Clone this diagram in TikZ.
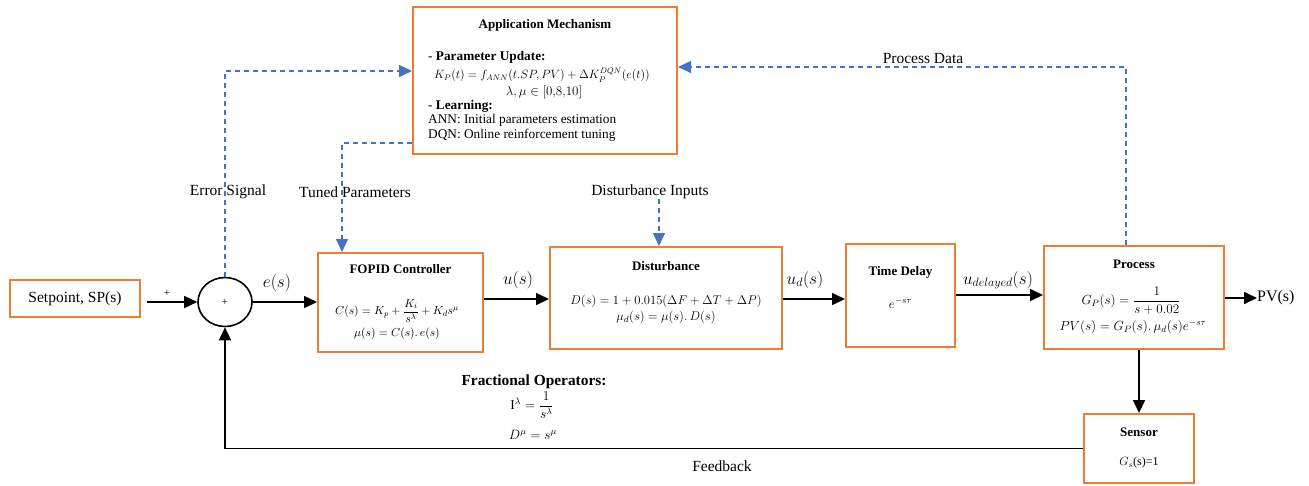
\RequirePackage{fix-cm}
\documentclass[tikz,border=0pt]{standalone}
\usepackage{amsmath}
\usepackage{fontspec}
\setmainfont{Liberation Serif}
\usetikzlibrary{arrows.meta,shapes.geometric}
\definecolor{orng}{HTML}{ED7D31}
\definecolor{blu}{HTML}{4472C4}
\begin{document}
\begin{tikzpicture}[x=1pt,y=-1pt,
  blk/.style={draw=orng,line width=2pt,inner sep=0pt},
  arr/.style={line width=1.6pt,-{Triangle[length=13pt,width=12pt]}},
  darr/.style={draw=blu,line width=1.2pt,dash pattern=on 5pt off 4pt,-{Triangle[length=13pt,width=12pt,fill=blu]}},
  ttl/.style={font=\fontsize{13}{15}\selectfont\bfseries,inner sep=0pt},
  frm/.style={font=\fontsize{12}{14}\selectfont,inner sep=0pt},
  lbl/.style={font=\fontsize{15.5}{18}\selectfont,inner sep=0pt},
  mlbl/.style={font=\fontsize{17.3}{20}\selectfont,inner sep=0pt},
  txt/.style={font=\fontsize{13.3}{15}\selectfont,inner sep=0pt,anchor=west}]
\useasboundingbox[fill=white] (0,0) rectangle (1309,485);
% blocks
\node[blk,minimum width=130pt,minimum height=37pt] (sp) at (75,298.5) {\fontsize{15.5}{18}\selectfont Setpoint, SP(s)};
\node[draw,ellipse,line width=1.6pt,minimum width=54pt,minimum height=49pt,inner sep=0pt] (sum) at (225,302) {\fontsize{11}{13}\selectfont +};
\node[blk,minimum width=165pt,minimum height=99pt] (fop) at (400.5,302.5) {};
\node[blk,minimum width=232pt,minimum height=102pt] (dist) at (666,298) {};
\node[blk,minimum width=109pt,minimum height=103pt] (td) at (900.5,295.5) {};
\node[blk,minimum width=180pt,minimum height=103pt] (proc) at (1134,297.5) {};
\node[blk,minimum width=110pt,minimum height=69pt] (sens) at (1139,448.5) {};
\node[blk,minimum width=264pt,minimum height=147pt] (app) at (545,80.5) {};
% block contents
\node[ttl] (fopt) at (400.5,269) {FOPID Controller};
\node[frm,font=\fontsize{11.6}{14}\selectfont] (fopf1) at (397,311) {$C(s)=K_p+\dfrac{K_i}{s^{\lambda}}+K_d s^{\mu}$};
\node[frm,font=\fontsize{11.6}{14}\selectfont] (fopf2) at (397,334) {$\mu(s)=C(s).\,e(s)$};
\node[ttl] (distt) at (666,266) {Disturbance};
\node[frm,font=\fontsize{12.6}{15}\selectfont] (distf1) at (666,301) {$D(s)=1+0.015(\Delta F+\Delta T+\Delta P)$};
\node[frm,font=\fontsize{12.6}{15}\selectfont] (distf2) at (666,317) {$\mu_d(s)=\mu(s).\,D(s)$};
\node[ttl] (tdt) at (900.5,272) {Time Delay};
\node[frm,font=\fontsize{13}{15}\selectfont] (tdf) at (900.5,303) {$e^{-s\tau}$};
\node[ttl] (proct) at (1134,264) {Process};
\node[frm,font=\fontsize{13.2}{15}\selectfont] (procf1) at (1131,301) {$G_P(s)=\dfrac{1}{s+0.02}$};
\node[frm,font=\fontsize{13.2}{15}\selectfont] (procf2) at (1133,327) {$PV(s)=G_P(s).\,\mu_d(s)e^{-s\tau}$};
\node[ttl] (senst) at (1139,432) {Sensor};
\node[frm] (sensf) at (1139,463) {$G_s$(s)=1};
\node[ttl] (appt) at (545,25) {Application Mechanism};
\node[txt] (app1) at (428,57) {- \textbf{Parameter Update:}};
\node[frm] (app2) at (542,75) {$K_P(t)=f_{ANN}(t.SP,PV)+\Delta K_P^{DQN}(e(t))$};
\node[frm,font=\fontsize{13}{15}\selectfont] (app3) at (544,92) {$\lambda,\mu\in[0{,}8{,}10]$};
\node[txt] (app4) at (428,106) {- \textbf{Learning:}};
\node[txt] (app5) at (428,120) {ANN: Initial parameters estimation};
\node[txt] (app6) at (428,135) {DQN: Online reinforcement tuning};
% fractional operators
\node[font=\fontsize{15.4}{18}\selectfont\bfseries,inner sep=0pt] (fr) at (534,382) {Fractional Operators:};
\node[frm,font=\fontsize{13.5}{16}\selectfont] (fr1) at (532,405) {$\mathrm{I}^{\lambda}=\dfrac{1}{s^{\lambda}}$};
\node[frm,font=\fontsize{13.5}{16}\selectfont] (fr2) at (533,435) {$D^{\mu}=s^{\mu}$};
% labels
\node[font=\fontsize{11}{13}\selectfont,inner sep=0pt] (plus) at (167,293) {+};
\node[mlbl] (es) at (277,283) {$e(s)$};
\node[mlbl] (us) at (518,280) {$u(s)$};
\node[mlbl] (uds) at (805,280) {$u_d(s)$};
\node[mlbl] (udl) at (998,280) {$u_{delayed}(s)$};
\node[lbl,anchor=west] (pv) at (1257,298) {\fontsize{16}{18}\selectfont PV(s)};
\node[lbl] (fb) at (722,466) {Feedback};
\node[lbl] (errl) at (228,192) {Error Signal};
\node[lbl] (tpl) at (355,192) {Tuned Parameters};
\node[lbl] (dinl) at (650,192) {Disturbance Inputs};
\node[lbl] (pdl) at (923,58) {Process Data};
% coordinates
\coordinate (erry) at (225,71);
\coordinate (tpa) at (342,143);
\coordinate (dina) at (659,199);
\coordinate (pd) at (1126,67);
% solid connectors
\draw[arr,shorten <=6pt] (sp.east |- sum.west) -- (sum.west);
\draw[arr] (sum.east) -- (fop.west |- sum.east);
\draw[arr] (fop.east |- 0,299) -- (dist.west |- 0,299);
\draw[arr] (dist.east |- 0,299) -- (td.west |- 0,299);
\draw[arr] (td.east |- 0,295) -- (proc.west |- 0,295);
\draw[arr] (proc.east |- pv.west) -- (pv.west);
\draw[arr] (proc.south -| sens.north) -- (sens.north);
\draw[arr] (sens.west) -| (sum.south);
% dashed connectors
\draw[darr] (sum.north) -- (erry) -- (app.west |- erry);
\draw[darr] (app.west |- tpa) -- (tpa) -- (tpa |- fop.north);
\draw[darr] (dina) -- (dina |- dist.north);
\draw[darr] (proc.north -| pd) -- (pd) -- (app.east |- pd);
\end{tikzpicture}
\end{document}
